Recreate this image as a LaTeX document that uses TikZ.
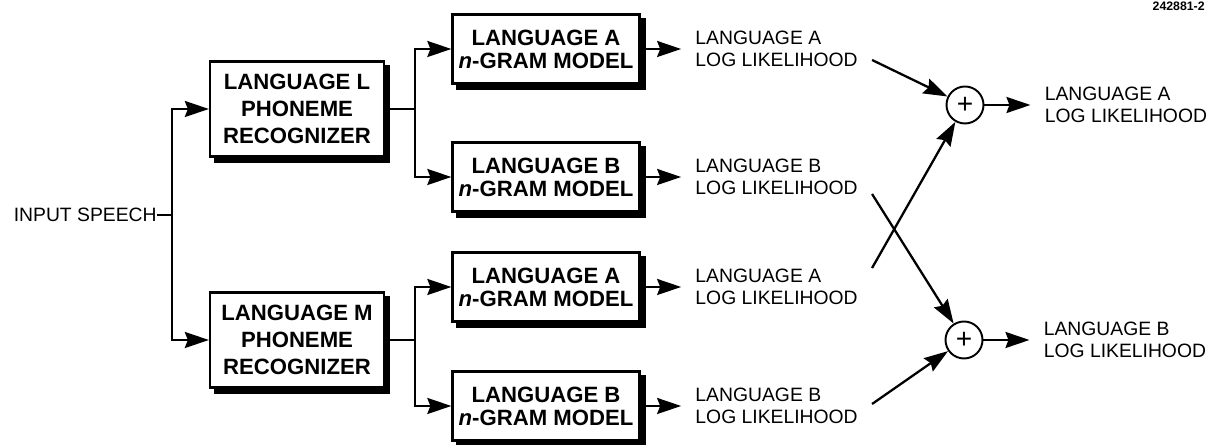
\documentclass[tikz,border=0pt]{standalone}
\usepackage{fontspec}
\setmainfont{Liberation Sans}
\usetikzlibrary{arrows.meta,positioning,calc}

\begin{document}
\begin{tikzpicture}[
  every node/.style={font=\fontsize{11}{12.5}\selectfont},
  recbox/.style={rectangle, draw=black, line width=1.3pt, fill=white,
    minimum width=3.48cm, minimum height=1.9cm, align=center,
    font=\bfseries\fontsize{12.6}{15.3}\selectfont,
    preaction={fill=black, draw=black, transform canvas={xshift=0.1cm, yshift=-0.1cm}}},
  grambox/.style={recbox, minimum width=3.74cm, minimum height=1.38cm,
    font=\bfseries\fontsize{12.6}{13}\selectfont},
  llabel/.style={align=left, inner xsep=0.28cm, inner ysep=0pt},
  sumnode/.style={circle, draw=black, line width=1.1pt, minimum size=0.74cm,
    inner sep=0pt, font=\fontsize{16}{16}\selectfont},
  wire/.style={line width=1.3pt},
  conn/.style={wire, -{Stealth[length=0.48cm,width=0.32cm,inset=0.06cm]}},
]
\useasboundingbox (0,0) rectangle (24.24,8.9);

% Drawing number
\node[anchor=north east, inner sep=0pt, font=\bfseries\fontsize{7}{8}\selectfont] (tag) at (24.1,8.86) {242881-2};

% Input
\node[anchor=east, inner sep=0pt] (input) at (3.14,4.6) {INPUT SPEECH};
\coordinate (insplit) at (3.44,4.6);

% Phoneme recognizers
\node[recbox] (recl) at (5.94,6.72) {LANGUAGE L\\PHONEME\\RECOGNIZER};
\node[recbox] (recm) at (5.94,2.1) {LANGUAGE M\\PHONEME\\RECOGNIZER};
\coordinate (lsplit) at (8.3,6.72);
\coordinate (msplit) at (8.3,2.1);

% n-gram models
\node[grambox] (gram1a) at (10.92,7.92) {LANGUAGE A\\\textit{n}-GRAM MODEL};
\node[grambox] (gram1b) at (10.92,5.36) {LANGUAGE B\\\textit{n}-GRAM MODEL};
\node[grambox] (gram2a) at (10.92,3.16) {LANGUAGE A\\\textit{n}-GRAM MODEL};
\node[grambox] (gram2b) at (10.92,0.78) {LANGUAGE B\\\textit{n}-GRAM MODEL};

% Log likelihoods
\node[llabel, right=0.81cm of gram1a] (lik1a) {LANGUAGE A\\LOG LIKELIHOOD};
\node[llabel, right=0.81cm of gram1b] (lik1b) {LANGUAGE B\\LOG LIKELIHOOD};
\node[llabel, right=0.81cm of gram2a] (lik2a) {LANGUAGE A\\LOG LIKELIHOOD};
\node[llabel, right=0.81cm of gram2b] (lik2b) {LANGUAGE B\\LOG LIKELIHOOD};

% Summing junctions
\node[sumnode] (suma) at (19.3,6.8) {+};
\node[sumnode] (sumb) at (19.28,2.1) {+};
\node[llabel, right=0.92cm of suma] (outa) {LANGUAGE A\\LOG LIKELIHOOD};
\node[llabel, right=0.92cm of sumb] (outb) {LANGUAGE B\\LOG LIKELIHOOD};

% Connectors
\draw[wire] (input.east) -- (insplit);
\draw[conn] (insplit) |- (recl.west);
\draw[conn] (insplit) |- (recm.west);
\draw[wire] (recl.east) -- (lsplit);
\draw[wire] (recm.east) -- (msplit);
\draw[conn] (lsplit) |- (gram1a.west);
\draw[conn] (lsplit) |- (gram1b.west);
\draw[conn] (msplit) |- (gram2a.west);
\draw[conn] (msplit) |- (gram2b.west);
\draw[conn] (gram1a.east) -- (lik1a.west);
\draw[conn] (gram1b.east) -- (lik1b.west);
\draw[conn] (gram2a.east) -- (lik2a.west);
\draw[conn] (gram2b.east) -- (lik2b.west);
\draw[conn] ([yshift=-0.22cm]lik1a.east) -- (suma);
\draw[conn] ([yshift=0.38cm]lik2a.east) -- (suma);
\draw[conn] ([yshift=-0.34cm]lik1b.east) -- (sumb);
\draw[conn] ([yshift=0.04cm]lik2b.east) -- (sumb);
\draw[conn] (suma.east) -- (outa.west);
\draw[conn] (sumb.east) -- (outb.west);
\end{tikzpicture}
\end{document}
